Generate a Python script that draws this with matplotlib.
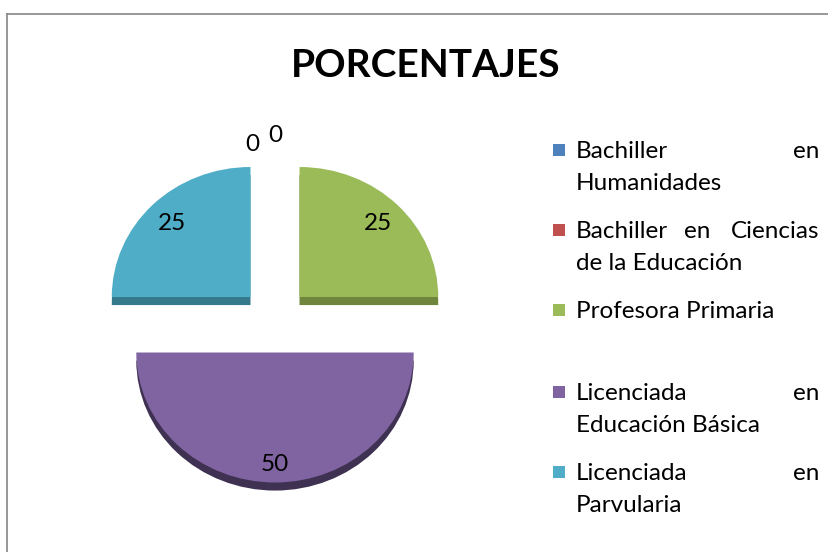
import matplotlib

matplotlib.use("Agg")
import matplotlib.pyplot as plt
import numpy as np
from matplotlib.patches import Rectangle

# data
categories = [
    "Bachiller en Humanidades",
    "Bachiller en Ciencias de la Educación",
    "Profesora Primaria",
    "Licenciada en Educación Básica",
    "Licenciada en Parvularia",
]
values = [0, 0, 25, 50, 25]
title = "PORCENTAJES"

# legend lines as they wrap (justified) in the original
legend_lines = [
    [["Bachiller", "en"], ["Humanidades"]],
    [["Bachiller", "en", "Ciencias"], ["de la Educación"]],
    [["Profesora Primaria"]],
    [["Licenciada", "en"], ["Educación Básica"]],
    [["Licenciada", "en"], ["Parvularia"]],
]

TOP = ["#4F81BD", "#C0504D", "#9BBB59", "#8064A2", "#4FADC7"]
SIDE = ["#385D8A", "#8C3836", "#6F863C", "#3F3151", "#35798C"]
FONT = "Lato"
W, H = 829, 552

fig = plt.figure(figsize=(W / 100, H / 100), dpi=100)

# pie axes: 138.7 px per unit horizontally, 130 px per unit vertically
px_x, px_y = 138.7, 130.0
cx, cy = 275, 320
xr, yr = 1.55, 1.5
ax = fig.add_axes([(cx - xr * px_x) / W, (H - cy - yr * px_y) / H,
                   2 * xr * px_x / W, 2 * yr * px_y / H])
explode = [0, 0, 0.25, 0.25, 0.25]
depth = 0.062

# side (darker) layer, shifted down
ax.pie(values, explode=explode, startangle=90, counterclock=False,
       colors=SIDE, center=(0, -depth), wedgeprops=dict(linewidth=0))
wedges, texts, autotexts = ax.pie(
    values, explode=explode, startangle=90, counterclock=False,
    colors=TOP, autopct=lambda p: f"{p:.0f}", pctdistance=0.8,
    wedgeprops=dict(linewidth=0),
    textprops=dict(fontsize=17.5, family=FONT, color="black"))
# zero labels sit above the pie; the big slice label a bit further out
zero_pos = [(-0.16, 1.35), (0.0, 1.42)]
k = 0
for v, w, t in zip(values, wedges, autotexts):
    if v == 0:
        t.set_position(zero_pos[k])
        k += 1
    elif v >= 50:
        ang = np.deg2rad((w.theta1 + w.theta2) / 2)
        t.set_position((w.center[0] + 0.86 * np.cos(ang),
                        w.center[1] + 0.86 * np.sin(ang)))
ax.set_aspect("auto")
ax.set_xlim(-xr, xr)
ax.set_ylim(-yr, yr)
ax.axis("off")

# overlay in pixel coordinates for title, legend, border
ov = fig.add_axes([0, 0, 1, 1], zorder=-1)
ov.set_xlim(0, W)
ov.set_ylim(H, 0)
ov.axis("off")
ov.plot([7, W], [14, 14], color="#868686", lw=1.2)
ov.plot([7, 7], [14, H], color="#868686", lw=1.2)

ov.text(426, 77, title, ha="center", va="baseline", fontsize=28,
        fontweight="bold", family=FONT)

x0, x1 = 576, 819
base0 = 158
for i, (lines, col) in enumerate(zip(legend_lines, TOP)):
    b = base0 + 80 * i + (2 if i >= 3 else 0)
    ov.add_patch(Rectangle((553, b - 14), 12, 12, color=col, lw=0))
    for j, words in enumerate(lines):
        y = b + 32 * j
        if len(words) == 1:
            ov.text(x0, y, words[0], ha="left", va="baseline",
                    fontsize=17.5, family=FONT)
        else:
            n = len(words)
            for m, w in enumerate(words):
                xp = x0 + (x1 - x0) * m / (n - 1)
                ha = "left" if m == 0 else ("right" if m == n - 1 else "center")
                ov.text(xp, y, w, ha=ha, va="baseline", fontsize=17.5,
                        family=FONT)

fig.savefig("out.png", dpi=100)
